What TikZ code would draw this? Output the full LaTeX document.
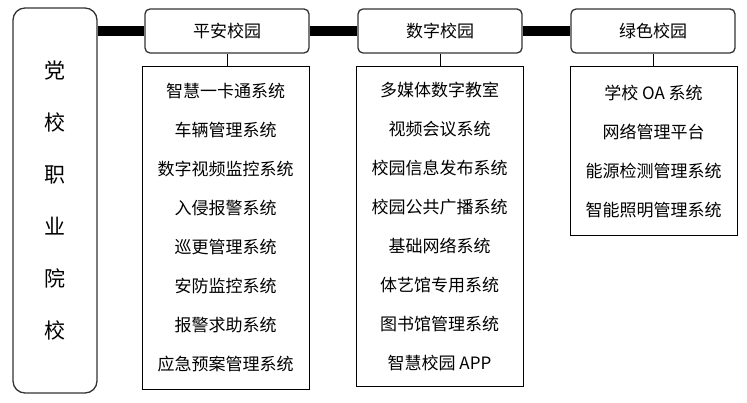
\documentclass[tikz,border=0pt]{standalone}
\usepackage{fontspec}
\newfontfamily\cjk{Noto Sans CJK SC}
\usepackage{tikz}
\tikzstyle{school} = [draw=black!80, line width=1.3pt, rounded corners=12pt, minimum width=84pt, minimum height=385pt, align=center, font={\cjk\fontsize{21}{52}\selectfont}]
\tikzstyle{area} = [draw=black!80, line width=1.3pt, rounded corners=5pt, minimum width=164pt, minimum height=44pt, font={\cjk\fontsize{17}{20}\selectfont}]
\tikzstyle{list} = [draw=black, line width=1pt, minimum width=167pt, align=center, font={\cjk\fontsize{17}{39}\selectfont}]
\tikzstyle{bar} = [line width=10pt]
\tikzstyle{link} = [line width=1pt]

\begin{document}
\begin{tikzpicture}[x=1pt, y={(0pt,-1pt)}]
  \useasboundingbox (0,0) rectangle (747,403);
  \node[school](dx) at (55,200.5){党\\校\\职\\业\\院\\校};
  \node[area](pa) at (227,31){平安校园};
  \node[area](sz) at (440,31){数字校园};
  \node[area](ls) at (653,31){绿色校园};
  \node[list,minimum height=322pt](pal) at (225.5,228){智慧一卡通系统\\车辆管理系统\\数字视频监控系统\\入侵报警系统\\巡更管理系统\\安防监控系统\\报警求助系统\\应急预案管理系统};
  \node[list,minimum height=319pt](szl) at (439.5,226.5){多媒体数字教室\\视频会议系统\\校园信息发布系统\\校园公共广播系统\\基础网络系统\\体艺馆专用系统\\图书馆管理系统\\智慧校园 APP};
  \node[list,minimum height=169pt](lsl) at (653.5,151.5){学校 OA 系统\\网络管理平台\\能源检测管理系统\\智能照明管理系统};
  \draw[bar](dx.east |- pa.west)--(pa.west);
  \draw[bar](pa.east)--(sz.west);
  \draw[bar](sz.east)--(ls.west);
  \draw[link](pa.south)--(pa.south |- pal.north);
  \draw[link](sz.south)--(sz.south |- szl.north);
  \draw[link](ls.south)--(ls.south |- lsl.north);
\end{tikzpicture}
\end{document}
